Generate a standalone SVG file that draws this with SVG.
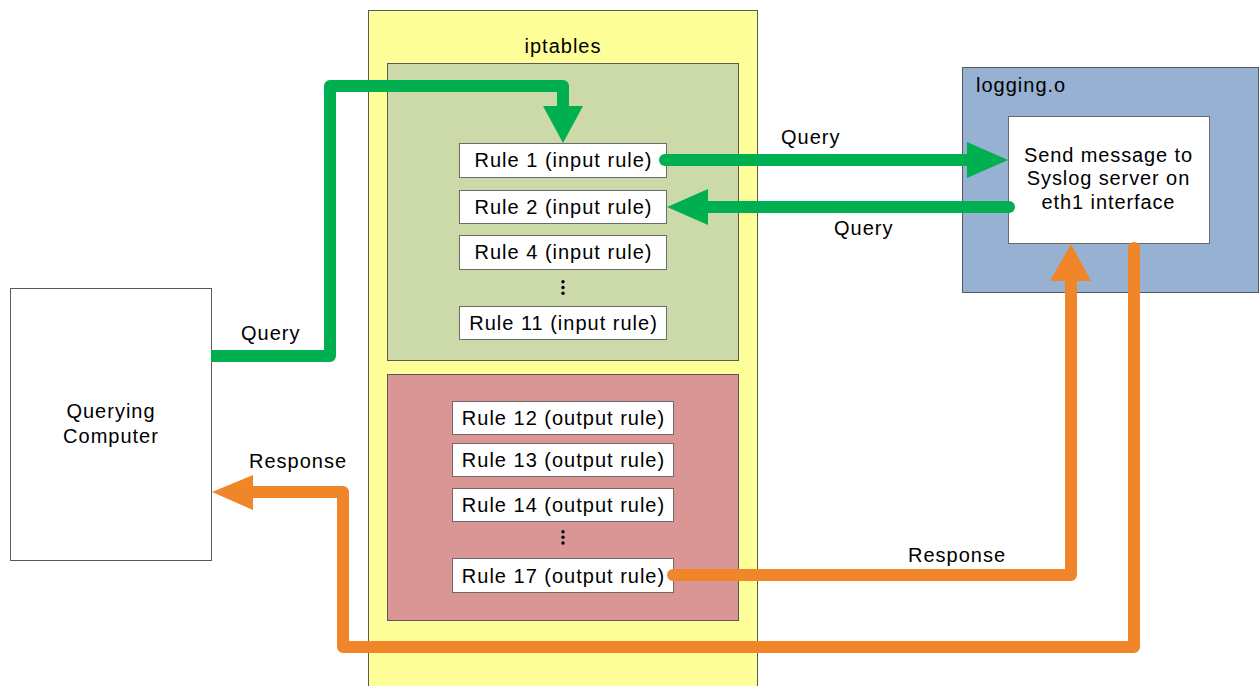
<svg xmlns="http://www.w3.org/2000/svg" width="1259" height="686" viewBox="0 0 1259 686">
<style>
text{font-family:"Liberation Sans",Arial,sans-serif;font-size:20px;fill:#000;letter-spacing:1px}
.c{text-anchor:middle}
.box{stroke:#595959;stroke-width:1}
.rule{fill:#fff;stroke:#6b6b6b;stroke-width:1}
.g{fill:none;stroke:#00B050;stroke-width:12;stroke-linejoin:round}
.o{fill:none;stroke:#F0852A;stroke-width:12;stroke-linejoin:round}
.gh{fill:#00B050}
.oh{fill:#F0852A}
.dot{fill:#000}
</style>
<rect width="1259" height="686" fill="#fff"/>
<g id="querying-computer">
<rect class="box" x="10.5" y="288.5" width="201" height="272" fill="#fff"/>
<text class="c" x="111" y="418">Querying</text>
<text class="c" x="111" y="443">Computer</text>
</g>
<g id="iptables">
<rect class="box" x="368.5" y="10.5" width="389" height="700" fill="#FFFF99"/>
<text class="c" x="563" y="53">iptables</text>
</g>
<g id="input-rules">
<rect class="box" x="387.5" y="63.5" width="351" height="297" fill="#CCDAAA"/>
</g>
<g id="rule1"><rect class="rule" x="459.5" y="143.5" width="207" height="34"/><text class="c" x="563.5" y="167">Rule 1 (input rule)</text></g>
<g id="rule2"><rect class="rule" x="459.5" y="190.5" width="207" height="33"/><text class="c" x="563.5" y="213.5">Rule 2 (input rule)</text></g>
<g id="rule4"><rect class="rule" x="459.5" y="235.5" width="207" height="34"/><text class="c" x="563.5" y="259">Rule 4 (input rule)</text></g>
<g id="dots-input"><circle class="dot" cx="563" cy="281.7" r="1.7"/><circle class="dot" cx="563" cy="287.5" r="1.7"/><circle class="dot" cx="563" cy="293.3" r="1.7"/></g>
<g id="rule11"><rect class="rule" x="459.5" y="306.5" width="207" height="33"/><text class="c" x="563.5" y="329.5">Rule 11 (input rule)</text></g>
<g id="output-rules">
<rect class="box" x="387.5" y="374.5" width="351" height="246" fill="#DA9694"/>
</g>
<g id="rule12"><rect class="rule" x="452.5" y="401.5" width="221" height="33"/><text class="c" x="563.5" y="424.5">Rule 12 (output rule)</text></g>
<g id="rule13"><rect class="rule" x="452.5" y="443.5" width="221" height="33"/><text class="c" x="563.5" y="467">Rule 13 (output rule)</text></g>
<g id="rule14"><rect class="rule" x="452.5" y="488.5" width="221" height="33"/><text class="c" x="563.5" y="512">Rule 14 (output rule)</text></g>
<g id="dots-output"><circle class="dot" cx="563" cy="531.7" r="1.7"/><circle class="dot" cx="563" cy="537.3" r="1.7"/><circle class="dot" cx="563" cy="543" r="1.7"/></g>
<g id="rule17"><rect class="rule" x="452.5" y="558.5" width="221" height="34"/><text class="c" x="563.5" y="582.5">Rule 17 (output rule)</text></g>
<g id="logging">
<rect class="box" x="962.5" y="67.5" width="296" height="225" fill="#96B1D2"/>
<text x="976" y="92">logging.o</text>
</g>
<g id="syslog">
<rect class="rule" x="1008.5" y="116.5" width="201" height="127"/>
<text class="c" x="1108.5" y="162" style="letter-spacing:0.9px">Send message to</text>
<text class="c" x="1108.5" y="185" style="letter-spacing:0.9px">Syslog server on</text>
<text class="c" x="1108.5" y="209" style="letter-spacing:0.9px">eth1 interface</text>
</g>
<g id="connectors">
<path class="g" d="M211 356 H330 V86 H563 V107"/>
<polygon class="gh" points="543,106 583,106 563,143"/>
<path class="g" d="M665 160 H968" stroke-linecap="round"/>
<polygon class="gh" points="967,142 967,178 1008,160"/>
<path class="g" d="M1009 207 H707" stroke-linecap="round"/>
<polygon class="gh" points="708,189 708,225 667,207"/>
<path class="o" d="M673 575 H1071 V280" stroke-linecap="round"/>
<polygon class="oh" points="1050,281 1091,281 1071,244"/>
<path class="o" d="M1134 248 V647 H343 V492 H252" stroke-linecap="round"/>
<polygon class="oh" points="253,475 253,510 212,492"/>
<text x="241" y="340">Query</text>
<text x="781" y="144">Query</text>
<text x="834" y="235">Query</text>
<text x="249" y="468">Response</text>
<text x="908" y="562">Response</text>
</g>
</svg>
